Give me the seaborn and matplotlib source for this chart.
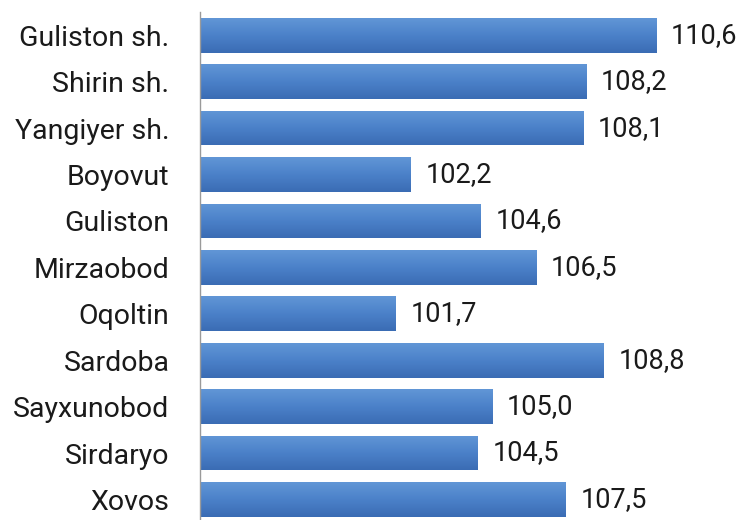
import matplotlib
matplotlib.use("Agg")
import matplotlib.pyplot as plt
import seaborn as sns
import numpy as np
import pandas as pd

# Data
districts = ["Guliston sh.", "Shirin sh.", "Yangiyer sh.", "Boyovut", "Guliston",
             "Mirzaobod", "Oqoltin", "Sardoba", "Sayxunobod", "Sirdaryo", "Xovos"]
values = [110.6, 108.2, 108.1, 102.2, 104.6, 106.5, 101.7, 108.8, 105.0, 104.5, 107.5]

df = pd.DataFrame({"district": districts, "value": values})

sns.set_style("white")
plt.rcParams["font.family"] = ["Roboto", "DejaVu Sans"]

fig = plt.figure(figsize=(7.43, 5.2), dpi=100)
ax = fig.add_axes([200 / 743, -5 / 520, 543 / 743, 513 / 520])

base = 95
sns.barplot(data=df, x="value", y="district", orient="h", color="#4a7fc6",
            width=0.75, ax=ax, saturation=1)

# bars start at base, not zero: shift them
for p in ax.patches:
    w = p.get_width()
    p.set_x(base)
    p.set_width(w - base)

# Excel-like vertical gradient on each bar (light on top, darker below)
grad = np.linspace(0, 1, 64).reshape(-1, 1)
cmap = matplotlib.colors.LinearSegmentedColormap.from_list(
    "g", ["#6196d6", "#4b81c9", "#3a6cb4"])
for p in ax.patches:
    x0, y0 = p.get_x(), p.get_y()
    im = ax.imshow(grad, cmap=cmap, aspect="auto", zorder=p.get_zorder() + 0.1,
                   extent=[x0, x0 + p.get_width(), y0 + p.get_height(), y0],
                   origin="upper")
    im.set_clip_path(p)

ax.set_xlim(base, base + 543 / 29.25)
ax.set_ylim(len(districts) - 0.5 + 0.05, -0.5)

for i, v in enumerate(values):
    ax.text(v + 0.5, i, f"{v:.1f}".replace(".", ","), va="center", ha="left",
            fontsize=19.5, color="#1a1a1a")

ax.set_xlabel("")
ax.set_ylabel("")
ax.set_xticks([])
ax.tick_params(axis="y", length=0, pad=22, labelsize=20.5, labelcolor="#1a1a1a")
for s in ["top", "right", "bottom"]:
    ax.spines[s].set_visible(False)
ax.spines["left"].set_color("#9a9a9a")
ax.spines["left"].set_linewidth(1)

fig.savefig("out.png", dpi=100)
